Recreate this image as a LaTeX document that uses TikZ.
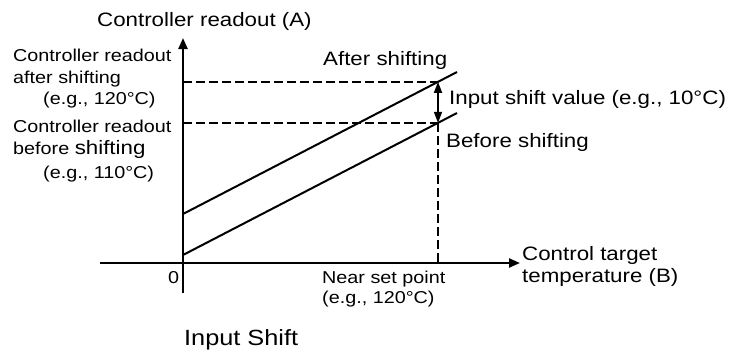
\documentclass[tikz,border=0pt]{standalone}
\usepackage{fontspec}
\setmainfont[FakeStretch=1.15]{Liberation Sans}
\usetikzlibrary{arrows.meta, positioning, calc}

\begin{document}
\begin{tikzpicture}[x=1pt, y=-1pt,
  axis_line/.style={line width=2.2pt, -{Triangle[length=11pt, width=9pt]}},
  graph_line/.style={line width=2pt},
  guide_line/.style={line width=1.6pt, dash pattern=on 9pt off 4pt},
  lbl/.style={inner sep=0pt, anchor=base west, font=\fontsize{19.4}{23}\selectfont},
  small_lbl/.style={lbl, font=\fontsize{17.2}{21}\selectfont},
]
  \useasboundingbox (0,0) rectangle (731,356);
  % axes
  \coordinate (o) at (183,263);
  \coordinate (x0) at (100,263);
  \coordinate (x1) at (520,263);
  \coordinate (y0) at (183,293);
  \coordinate (y1) at (183,38);
  \draw[axis_line] (x0) -- (x1);
  \draw[axis_line] (y0) -- (y1);
  % readout lines
  \coordinate (a0) at (183,214); \coordinate (a1) at (457,72);
  \coordinate (b0) at (183,255); \coordinate (b1) at (457,113);
  \draw[graph_line] (a0) -- (a1);
  \draw[graph_line] (b0) -- (b1);
  \coordinate (pa) at ($(a0)!0.9307!(a1)$);
  \coordinate (pb) at ($(b0)!0.9307!(b1)$);
  \draw[guide_line] (o |- pa) -- (pa);
  \draw[guide_line] (o |- pb) -- (pb);
  \draw[guide_line] (pb) -- (pb |- o);
  \draw[line width=1.6pt, {Triangle[length=11pt, width=8pt]}-{Triangle[length=11pt, width=8pt]}] (pa) -- (pb);
  % labels
  \node[lbl] (ya) at (97,27) {Controller readout (A)};
  \node[small_lbl] (ra1) at (13,61) {Controller readout};
  \node[small_lbl] (ra2) at (13,83) {after shifting};
  \node[small_lbl] (ra3) at (43,104) {(e.g., 120°C)};
  \node[small_lbl] (rb1) at (13,132) {Controller readout};
  \node[small_lbl] (rb2) at (13,154) {before {\fontsize{19.4}{23}\selectfont shifting}};
  \node[small_lbl] (rb3) at (43,178) {(e.g., 110°C)};
  \node[lbl] (after) at (323,65) {After shifting};
  \node[lbl] (shift) at (449,104) {Input shift value (e.g., 10°C)};
  \node[lbl] (before) at (446,147) {Before shifting};
  \node[lbl] (xa1) at (522,260) {Control target};
  \node[lbl] (xa2) at (522,282) {temperature (B)};
  \node[small_lbl] (zero) at (168,283) {0};
  \node[small_lbl] (sp1) at (322,283) {Near set point};
  \node[small_lbl] (sp2) at (322,303) {(e.g., 120°C)};
  \node[lbl, font=\fontsize{22}{26}\selectfont] (title) at (184,345) {Input Shift};
\end{tikzpicture}
\end{document}
